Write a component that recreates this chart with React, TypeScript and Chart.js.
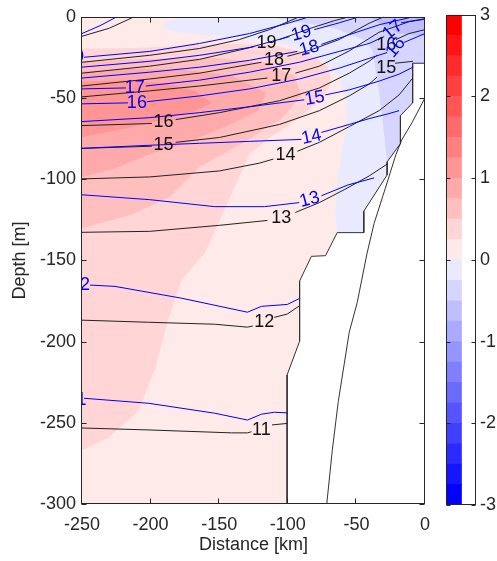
import React, { useEffect, useRef } from 'react';
import { Chart, registerables } from 'chart.js';

Chart.register(...registerables);

type Pt = [number, number] | null;

// ---------- axes ----------
const xTicks = [-250, -200, -150, -100, -50, 0];
const yTicks = [0, -50, -100, -150, -200, -250, -300];
const colorbarTicks = [-3, -2, -1, 0, 1, 2, 3];

// ---------- colour levels (colorbar) ----------
const levelLow = [-3, -2.75, -2.5, -2.25, -2, -1.75, -1.5, -1.25, -1, -0.75, -0.5, -0.25, 0, 0.25, 0.5, 0.75, 1, 1.25, 1.5, 1.75, 2, 2.25, 2.5, 2.75];
const levelHigh = [-2.75, -2.5, -2.25, -2, -1.75, -1.5, -1.25, -1, -0.75, -0.5, -0.25, 0, 0.25, 0.5, 0.75, 1, 1.25, 1.5, 1.75, 2, 2.25, 2.5, 2.75, 3];
const levelColors = [
  'rgb(0,0,255)', 'rgb(21,21,255)', 'rgb(43,43,255)', 'rgb(64,64,255)', 'rgb(85,85,255)', 'rgb(106,106,255)',
  'rgb(128,128,255)', 'rgb(149,149,255)', 'rgb(170,170,255)', 'rgb(191,191,255)', 'rgb(213,213,255)', 'rgb(234,234,255)',
  'rgb(255,234,234)', 'rgb(255,213,213)', 'rgb(255,191,191)', 'rgb(255,170,170)', 'rgb(255,149,149)', 'rgb(255,128,128)',
  'rgb(255,106,106)', 'rgb(255,85,85)', 'rgb(255,64,64)', 'rgb(255,43,43)', 'rgb(255,21,21)', 'rgb(255,0,0)',
];

// ---------- filled regions [km, depth] ----------
const regionPos1: Pt[] = [[-250, 0], [0, 0], [0, -28.6], [-9, -28.6], [-9, -53], [-17.9, -60.9], [-17.9, -78.1], [-27.6, -89.3], [-27.6, -97.4], [-44.6, -119.7], [-44.6, -132.9], [-64, -132.9], [-72.5, -147.1], [-82.8, -147.5], [-91.4, -162.7], [-91.4, -199.8], [-100.5, -220.5], [-100.5, -300], [-250, -300]];
const regionPos2: Pt[] = [[-250, -19.5], [-213.7, -19.3], [-177.3, -17.9], [-141, -16.6], [-109.5, -17.9], [-85.3, -22.3], [-70.7, -30.4], [-68.3, -40.6], [-75.6, -50.7], [-92.5, -62.9], [-114.3, -75.1], [-127.9, -84.6], [-144.1, -115], [-160.4, -145.5], [-177.3, -161.7], [-187, -186], [-196.7, -216.5], [-208.8, -242.9], [-230.6, -259], [-250, -267]];
const regionPos3: Pt[] = [[-250, -27.4], [-201.5, -26], [-153.1, -25.4], [-116.8, -28.4], [-95, -36.5], [-90.1, -48.7], [-104.7, -62.9], [-133.7, -78.1], [-164.2, -92.5], [-186, -110.8], [-213.7, -121.7], [-250, -130.2]];
const regionPos4: Pt[] = [[-250, -33.5], [-213.7, -32.1], [-177.3, -32.5], [-141, -36.1], [-115.6, -46.7], [-121.6, -57.8], [-143.4, -67], [-172.5, -77.1], [-200.6, -84.6], [-225.8, -93.3], [-250, -98.6]];
const regionPos5: Pt[] = [[-250, -40], [-220.9, -39], [-189.4, -41], [-167.6, -45.6], [-155.5, -53.2], [-170.1, -59], [-201.5, -65.5], [-230.6, -71], [-250, -74]];
const regionNeg1: Pt[] = [[-177.3, 0], [0, 0], [0, -28.6], [-9, -28.6], [-9, -53], [-17.9, -60.9], [-17.9, -78.1], [-27.6, -89.3], [-27.6, -97.4], [-44.6, -119.7], [-44.6, -132.9], [-64, -132.9], [-65.4, -121.7], [-64.7, -105.5], [-61, -85.2], [-57.4, -67], [-57.4, -50.7], [-63.5, -36.5], [-75.6, -26.4], [-92.5, -19.3], [-114.3, -14.6], [-141, -12.6], [-170.1, -10.5], [-187, -8.1], [-191.1, -6.1], [-188.2, -3]];
const regionNeg2: Pt[] = [[-114.3, 0], [0, 0], [0, -28.6], [-9, -28.6], [-9, -53], [-17.9, -60.9], [-17.9, -78.1], [-27.6, -89.3], [-29.5, -75], [-31.3, -60.9], [-34.4, -40.6], [-38.5, -20.1], [-44.1, -14.2], [-65.9, -7.1], [-92.5, -3]];
const regionNeg3: Pt[] = [[-40, 0], [0, 0], [0, -12], [-20, -10], [-32, -5]];

// ---------- bathymetry ----------
const gridEdge: Pt[] = [[0, -28.6], [-9, -28.6], [-9, -53], [-17.9, -60.9], [-17.9, -78.1], [-27.6, -89.3], [-27.6, -97.4], [-44.6, -119.7], [-44.6, -132.9], [-64, -132.9], [-72.5, -147.1], [-82.8, -147.5], [-91.4, -162.7], [-91.4, -199.8], [-100.5, -220.5], [-100.5, -300]];
const slopeLine: Pt[] = [[0, -49.9], [-9.4, -65.1], [-16.7, -75.4], [-21.1, -84.6], [-29.1, -106.1], [-37.1, -127.2], [-42.2, -145.5], [-49.4, -175.9], [-55.2, -194.2], [-63.2, -236.8], [-67.6, -267.2], [-71.6, -300]];

// ---------- black isotherms ----------
const black21: Pt[] = [[-250, -12], [-230, -7], [-212, 0]];
const black20: Pt[] = [[-250, -28], [-200.6, -23.7], [-164.2, -19.5], [-135.2, -14], [-113.4, -7.9], [-91.6, 0]];
const black19: Pt[] = [[-250, -34.7], [-200.6, -30.4], [-164.2, -26.2], [-124.3, -18.3], null, [-106.1, -14], [-84.3, -7.3], [-66.1, -2.4], [-55.2, 0]];
const black18: Pt[] = [[-250, -42.6], [-200.6, -38.3], [-164.2, -34.7], [-119.2, -28], null, [-100.3, -24.3], [-84.3, -20.7], [-62.5, -14], [-40.7, -4], [-30, 0]];
const black17: Pt[] = [[-250, -49.3], [-200.6, -45.6], [-164.2, -42.6], [-114.8, -37.7], null, [-94.5, -34.7], [-77, -30.4], [-55.2, -21], [-33.4, -9.5], [-11.6, -3], [0, -1.5]];
const black16: Pt[] = [[-250, -67], [-199.1, -65.7], null, [-181.7, -63.3], [-149.7, -59], [-106.1, -51.7], [-77, -43.8], [-55.2, -34.7], [-40.7, -27.4], [-34.9, -23.7], null, [-21.1, -14], [-11.6, -10.3], [0, -7.9]];
const black15: Pt[] = [[-250, -81], [-199.1, -79.7], null, [-181.7, -77.3], [-149.7, -74.3], [-106.1, -66.3], [-77, -57.8], [-55.2, -48.7], [-40.7, -41.4], [-34.9, -37.1], null, [-21.8, -28.6], [-8.7, -27.4]];
const black14: Pt[] = [[-250, -99.8], [-200.6, -98.6], [-149.7, -94.9], [-120.6, -90.1], [-110.5, -87.6], null, [-93, -82.8], [-77, -77.3], [-55.2, -67.6], [-33.4, -57.8], [-18.9, -48.1], [-8.9, -37.7]];
const black13: Pt[] = [[-250, -132.7], [-200.6, -132.1], [-149.7, -128.4], [-114.8, -125.4], null, [-94.5, -120.5], [-77, -114.4], [-58.9, -106.5], [-40.7, -98], [-27.6, -90.7]];
const black12: Pt[] = [[-250, -186.8], [-201.3, -188.1], [-153.3, -189.3], [-129.4, -191.1], [-125.5, -190.4], null, [-109.9, -185.1], [-100.3, -183], [-91.6, -178]];
const black11: Pt[] = [[-250, -253.2], [-201.3, -254.4], [-141, -256.2], [-129.4, -256.2], [-126.5, -255.5], null, [-111.5, -251.3], [-100.5, -250.4]];

// ---------- blue isotherms ----------
const blue21: Pt[] = [[-250, -10.3], [-236.9, -5.5], [-224.6, 0]];
const blue20: Pt[] = [[-248.5, -24.9], [-200.6, -21.3], [-164.2, -16.4], [-127.9, -10.3], [-98.8, -3.7], [-84.3, 0]];
const blue19: Pt[] = [[-250, -31], [-200.6, -27.4], [-164.2, -23.7], [-127.9, -18.9], [-98.8, -12.2], null, [-80.7, -7.9], [-62.5, -3.7], [-48, 0]];
const blue18: Pt[] = [[-250, -37.7], [-200.6, -34.1], [-164.2, -31], [-127.9, -26.8], [-93, -21.3], null, [-75.5, -17], [-55.2, -11], [-33.4, -4.9], [-11.6, -0.6]];
const blue17: Pt[] = [[-250, -44.4], [-218, -43.8], null, [-203.5, -42.6], [-164.2, -39], [-127.9, -34.1], [-91.6, -28], [-62.5, -21.3], [-40.7, -16.4], [-29.8, -12.2], null, [-17.4, -3.7], [0, -1.2]];
const blue16: Pt[] = [[-250, -53.6], [-216.5, -53], null, [-202.8, -52.3], [-164.2, -48.7], [-127.9, -44.4], [-91.6, -38.3], [-62.5, -31.6], [-40.7, -25.6], [-27.6, -22], null, [-15.3, -15.8], [0, -10.3]];
const blue15: Pt[] = [[-250, -64.5], [-200.6, -62.1], [-164.2, -59], [-127.9, -55.4], [-88, -51.1], null, [-72.7, -48.1], [-55.2, -45], [-33.4, -39.6], [-18.9, -35.3], [-8.7, -31]];
const blue14: Pt[] = [[-250, -81], [-200.6, -79.1], [-164.2, -77.9], [-127.9, -76.7], [-90.1, -75.5], null, [-75.5, -71.2], [-55.2, -66.3], [-40.7, -62.7], [-26.2, -59.6], [-18.9, -57.8]];
const blue13: Pt[] = [[-250, -109.6], [-200.6, -112.6], [-153.3, -116.9], [-117, -116.9], [-91.6, -114.4], null, [-75.5, -110.2], [-56, -103.5], [-37.1, -99.2]];
const blue12: Pt[] = [[-244.2, -165.2], [-226, -166], [-177.3, -173.3], [-129.4, -181.9], [-119.2, -178.3], [-100.3, -177.1], [-91.6, -173.5]];
const blue11: Pt[] = [[-248.5, -234.9], [-201.3, -238], [-153.3, -244.1], [-129.4, -248.3], [-119.2, -244.7], [-109.7, -243.5], [-100.3, -243.9]];

// ---------- contour labels: text, km, depth, rotation(deg) ----------
const blackLabels: [string, number, number, number][] = [
  ['19', -115.6, -16.2, 0], ['18', -110, -26.4, 0], ['17', -104.7, -36.5, 0],
  ['16', -190.6, -64.5, 0], ['15', -190.6, -78.7, 0], ['16', -28.3, -17.5, 0], ['15', -28.3, -31.8, 0],
  ['14', -101.7, -85.2, 0], ['13', -104.7, -123.8, 0], ['12', -117.2, -188.1, 0], ['11', -119.2, -254.4, 0],
];
const blueLabels: [string, number, number, number][] = [
  ['20', -255.8, -25, 0], ['19', -90.1, -10.3, -15], ['18', -84.3, -19.5, -15],
  ['17', -211.5, -44, 0], ['16', -210, -53.1, 0], ['17', -23.5, -8.1, -40], ['16', -21.3, -19, -50],
  ['15', -80.4, -50.2, -10], ['14', -82.8, -74.1, -12], ['13', -84.1, -112.6, -15],
  ['12', -251.5, -165.4, 0], ['11', -253.6, -236, 0],
];

const FONT = { family: '"Liberation Sans", Arial, Helvetica, sans-serif', size: 18 };
const TEXT = '#262626';
const BLACK_LINE = '#222222';
const BLUE_LINE = 'rgb(0,0,255)';

function polyData(pts: Pt[]) {
  const p = pts.filter(Boolean) as [number, number][];
  let minI = 0;
  p.forEach((q, i) => { if (q[0] < p[minI][0]) minI = i; });
  const rot = p.slice(minI).concat(p.slice(0, minI));
  const maxX = Math.max(...p.map((q) => q[0]));
  const out = rot.map(([x, y]) => ({ x, y }));
  out.push({ x: rot[0][0], y: rot[0][1] });
  out.push({ x: maxX, y: rot[0][1] });
  return out;
}

function lineData(pts: Pt[]) {
  const out: { x: number; y: number | null }[] = [];
  let lastX = 0;
  pts.forEach((p) => {
    if (p) { out.push({ x: p[0], y: p[1] }); lastX = p[0]; }
    else out.push({ x: lastX, y: null });
  });
  return out;
}

const framePlugin = {
  id: 'matlabFrame',
  afterDraw(chart: any) {
    const { ctx, chartArea: a, scales } = chart;
    ctx.save();
    ctx.strokeStyle = TEXT;
    ctx.lineWidth = 1;
    const L = Math.round(a.left) - 0.5, R = Math.round(a.right) - 0.5;
    const T = Math.round(a.top) + 0.5, B = Math.round(a.bottom) - 0.5;
    ctx.strokeRect(L, T, R - L, B - T);
    ctx.beginPath();
    xTicks.forEach((v) => {
      const px = Math.round(scales.x.getPixelForValue(v)) - 0.5;
      ctx.moveTo(px, B); ctx.lineTo(px, B - 5);
      ctx.moveTo(px, T); ctx.lineTo(px, T + 5);
    });
    yTicks.forEach((v) => {
      const py = Math.round(scales.y.getPixelForValue(v)) + 0.5;
      ctx.moveTo(L, py); ctx.lineTo(L + 5, py);
      ctx.moveTo(R, py); ctx.lineTo(R - 5, py);
    });
    ctx.stroke();
    ctx.restore();
  },
};

const labelPlugin = {
  id: 'contourLabels',
  afterDatasetsDraw(chart: any) {
    const { ctx, chartArea: a, scales } = chart;
    ctx.save();
    ctx.beginPath();
    ctx.rect(a.left, a.top, a.right - a.left, a.bottom - a.top);
    ctx.clip();
    ctx.font = `${FONT.size}px ${FONT.family}`;
    ctx.textAlign = 'center';
    ctx.textBaseline = 'middle';
    const draw = (list: [string, number, number, number][], color: string) => {
      ctx.fillStyle = color;
      list.forEach(([t, x, y, r]) => {
        ctx.save();
        ctx.translate(scales.x.getPixelForValue(x), scales.y.getPixelForValue(y));
        ctx.rotate((r * Math.PI) / 180);
        ctx.fillText(t, 0, 0);
        ctx.restore();
      });
    };
    draw(blackLabels, '#111111');
    draw(blueLabels, BLUE_LINE);
    ctx.restore();
  },
};

const cbFramePlugin = {
  id: 'cbFrame',
  afterDraw(chart: any) {
    const { ctx, chartArea: a, scales } = chart;
    ctx.save();
    ctx.strokeStyle = TEXT;
    ctx.lineWidth = 1;
    const L = Math.round(a.left) - 0.5, R = Math.round(a.right) - 0.5;
    const T = Math.round(a.top) + 0.5, B = Math.round(a.bottom) - 0.5;
    ctx.strokeRect(L, T, R - L, B - T);
    ctx.beginPath();
    colorbarTicks.forEach((v) => {
      const py = Math.round(scales.y.getPixelForValue(v)) + 0.5;
      ctx.moveTo(L, py); ctx.lineTo(L + 4, py);
      ctx.moveTo(R, py); ctx.lineTo(R - 4, py);
    });
    ctx.stroke();
    ctx.restore();
  },
};

function mainConfig(): any {
  const regions: [Pt[], number][] = [
    [regionPos1, 0], [regionPos2, 0.25], [regionPos3, 0.5], [regionPos4, 0.75], [regionPos5, 1],
    [regionNeg1, -0.25], [regionNeg2, -0.5], [regionNeg3, -0.75],
  ];
  const datasets: any[] = [];
  regions.forEach(([pts, lo], i) => {
    datasets.push({
      data: polyData(pts), fill: 'shape', backgroundColor: levelColors[levelLow.indexOf(lo)],
      borderWidth: 0, borderColor: 'rgba(0,0,0,0)', pointRadius: 0, order: 100 - i,
    });
  });
  [gridEdge, slopeLine].forEach((pts) => datasets.push({
    data: lineData(pts), borderColor: '#333333', borderWidth: 1, fill: false, pointRadius: 0, order: 5,
  }));
  [black21, black20, black19, black18, black17, black16, black15, black14, black13, black12, black11].forEach((pts) =>
    datasets.push({ data: lineData(pts), borderColor: BLACK_LINE, borderWidth: 1, fill: false, pointRadius: 0, order: 2 }));
  [blue21, blue20, blue19, blue18, blue17, blue16, blue15, blue14, blue13, blue12, blue11].forEach((pts) =>
    datasets.push({ data: lineData(pts), borderColor: BLUE_LINE, borderWidth: 1, fill: false, pointRadius: 0, order: 1 }));

  return {
    type: 'line',
    data: { datasets },
    options: {
      responsive: false, animation: false, devicePixelRatio: 1, events: [],
      layout: { padding: { left: 0, right: 14, top: 11, bottom: 0 } },
      elements: { point: { radius: 0, hoverRadius: 0 }, line: { tension: 0 } },
      plugins: { legend: { display: false }, tooltip: { enabled: false } },
      scales: {
        x: {
          type: 'linear', min: xTicks[0], max: xTicks[xTicks.length - 1],
          afterBuildTicks: (s: any) => { s.ticks = xTicks.map((v) => ({ value: v })); },
          ticks: { font: FONT, color: TEXT, padding: 10, maxRotation: 0, autoSkip: false, callback: (v: any) => String(v) },
          grid: { display: false, drawTicks: false }, border: { display: false },
          title: { display: true, text: 'Distance [km]', font: FONT, color: TEXT, padding: { top: 0, bottom: 5 } },
          afterFit: (s: any) => { s.height = 57; },
        },
        y: {
          type: 'linear', min: yTicks[yTicks.length - 1], max: yTicks[0],
          afterBuildTicks: (s: any) => { s.ticks = yTicks.map((v) => ({ value: v })); },
          ticks: { font: FONT, color: TEXT, padding: 6, autoSkip: false, callback: (v: any) => String(v) },
          grid: { display: false, drawTicks: false }, border: { display: false },
          title: { display: true, text: 'Depth [m]', font: FONT, color: TEXT, padding: { top: 9, bottom: 0 } },
          afterFit: (s: any) => { s.width = 82; },
        },
      },
    },
    plugins: [labelPlugin, framePlugin],
  };
}

function colorbarConfig(): any {
  return {
    type: 'bar',
    data: {
      labels: [''],
      datasets: levelLow.map((lo, i) => ({
        data: [[lo, levelHigh[i]]], backgroundColor: levelColors[i], borderWidth: 0,
        grouped: false, barPercentage: 1, categoryPercentage: 1,
      })),
    },
    options: {
      responsive: false, animation: false, devicePixelRatio: 1, events: [],
      layout: { padding: { left: 20, right: 0, top: 11, bottom: 56 } },
      plugins: { legend: { display: false }, tooltip: { enabled: false } },
      scales: {
        x: { type: 'category', display: false, offset: false },
        y: {
          type: 'linear', position: 'right', min: -3, max: 3,
          afterBuildTicks: (s: any) => { s.ticks = colorbarTicks.map((v) => ({ value: v })); },
          ticks: { font: FONT, color: TEXT, padding: 4, autoSkip: false, callback: (v: any) => String(v) },
          grid: { display: false, drawTicks: false }, border: { display: false },
          afterFit: (s: any) => { s.width = 21; },
        },
      },
    },
    plugins: [cbFramePlugin],
  };
}

export default function App() {
  const mainRef = useRef<HTMLCanvasElement>(null);
  const cbRef = useRef<HTMLCanvasElement>(null);
  useEffect(() => {
    const c1 = new Chart(mainRef.current as HTMLCanvasElement, mainConfig());
    const c2 = new Chart(cbRef.current as HTMLCanvasElement, colorbarConfig());
    return () => { c1.destroy(); c2.destroy(); };
  }, []);
  return (
    <div style={{ position: 'fixed', left: 0, top: 0, width: 497, height: 561, background: '#ffffff', overflow: 'hidden' }}>
      <canvas ref={mainRef} width={440} height={561} style={{ position: 'absolute', left: 0, top: 0, width: 440, height: 561 }} />
      <canvas ref={cbRef} width={70} height={561} style={{ position: 'absolute', left: 427, top: 0, width: 70, height: 561 }} />
    </div>
  );
}
